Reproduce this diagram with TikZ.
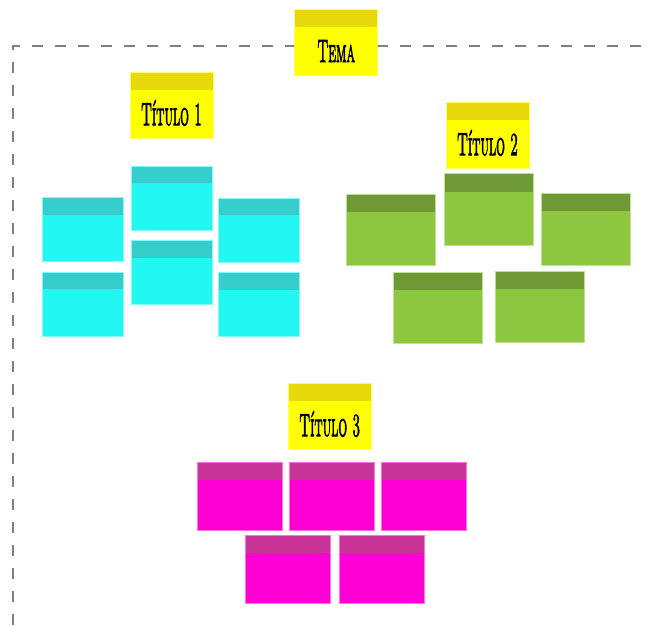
\documentclass[tikz,border=0pt]{standalone}
\usepackage{graphicx}
\usepackage{fontspec}
\newfontfamily\notefont{lmromancaps10-regular.otf}[FakeBold=3]

\definecolor{noteyellow}{HTML}{FFFF00}
\definecolor{yellowtop}{HTML}{E8D90C}
\definecolor{notecyan}{HTML}{22F7F2}
\definecolor{cyantop}{HTML}{36CDCD}
\definecolor{notegreen}{HTML}{8DC63F}
\definecolor{greentop}{HTML}{6F9934}
\definecolor{notepink}{HTML}{FF00D4}
\definecolor{pinktop}{HTML}{C83497}
\definecolor{framegray}{HTML}{808080}

\newcommand{\notetitle}[1]{\scalebox{0.58}[1.35]{\fontsize{24}{24}\notefont #1}}

\tikzset{
  band/.style 2 args={path picture={\fill[#1] (path picture bounding box.north west) rectangle ([yshift=-#2]path picture bounding box.north east);}},
  sticky/.style={rectangle, inner sep=0pt, outer sep=0pt, line width=0.6pt},
  topic/.style={sticky, minimum width=83pt, minimum height=66pt, fill=noteyellow, draw=noteyellow!60!white, band={yellowtop}{17pt}, text height=39pt, text depth=0pt},
  cyannote/.style={sticky, minimum width=81pt, minimum height=64pt, fill=notecyan, draw=notecyan!55!white, band={cyantop}{17pt}},
  greennote/.style={sticky, minimum width=89pt, minimum height=71.5pt, fill=notegreen, draw=notegreen!55!white, band={greentop}{18pt}},
  pinknote/.style={sticky, minimum width=85pt, minimum height=68pt, fill=notepink, draw=notepink!55!white, band={pinktop}{17pt}},
}

\begin{document}
\begin{tikzpicture}[x=1pt, y=-1pt]
    \useasboundingbox (0,0) rectangle (649,625);
    \coordinate (frametop) at (13,46);
    \draw[framegray, line width=1.3pt, dash pattern=on 11pt off 12pt] (13,625) -- (frametop) -- (649,46);

    \node[topic] (tema) at (336.2,42.5) {\notetitle{Tema}};
    \node[topic] (titulo1) at (171.5,105.7) {\notetitle{Título 1}};
    \node[topic] (titulo2) at (487.5,135.7) {\notetitle{Título 2}};
    \node[topic] (titulo3) at (329.7,416.7) {\notetitle{Título 3}};

    \foreach \n/\x/\y in {1/82.7/229.7, 2/172.2/198.3, 3/258.8/229.8, 4/172.2/272.7, 5/82.7/304.2, 6/258.8/304.5}
        \node[cyannote] (cyan\n) at (\x,\y) {};

    \foreach \n/\x/\y in {1/489/209.5, 2/390.7/230, 3/586.2/229.2, 4/438/307.8, 5/539.3/307}
        \node[greennote] (green\n) at (\x,\y) {};

    \foreach \n/\x/\y in {1/239.3/496.7, 2/331.5/496.7, 3/424/496.7, 4/287.3/569.5, 5/382.2/569.5}
        \node[pinknote] (pink\n) at (\x,\y) {};
\end{tikzpicture}
\end{document}
